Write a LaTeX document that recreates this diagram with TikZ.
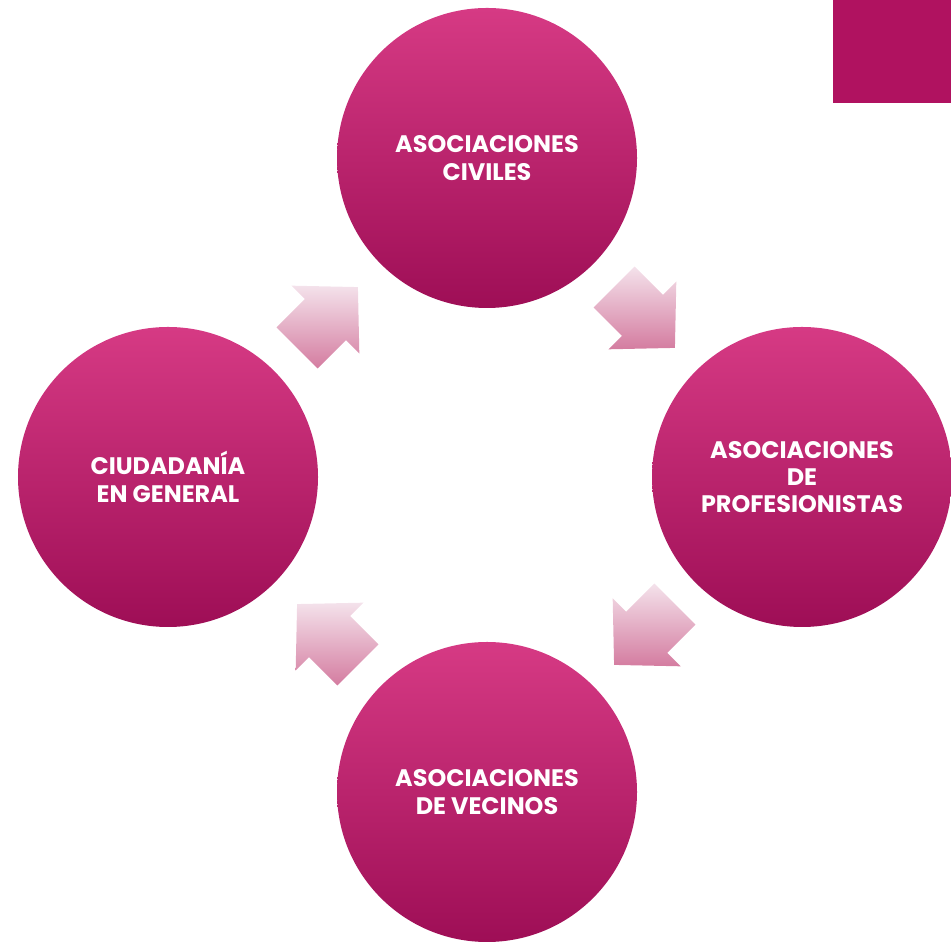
\documentclass[tikz,border=0pt]{standalone}
\usepackage{fontspec}
\setmainfont{Poppins}
\usetikzlibrary{positioning, calc}
\definecolor{magTop}{RGB}{214,58,132}
\definecolor{magBot}{RGB}{158,14,86}
\definecolor{magBox}{RGB}{176,18,96}
\definecolor{arrTop}{RGB}{244,226,235}
\definecolor{arrBot}{RGB}{212,124,160}

\begin{document}
\begin{tikzpicture}[
    x=0.2mm, y=0.2mm,
    group/.style={circle, minimum size=60mm, inner sep=0pt, top color=magTop, bottom color=magBot, text=white, font=\fontsize{13.6}{15.6}\selectfont\bfseries, align=center},
    flow/.style={top color=arrTop, bottom color=arrBot, shift={(#1)}}
]
\useasboundingbox (0,0) rectangle (951,944);

% Corner box
\fill[magBox] (833,841) rectangle (951,944);

% Groups
\node[group] (civiles) at (487,786) {ASOCIACIONES\\CIVILES};
\node[group] (profesionistas) at (802,467) {ASOCIACIONES\\DE\\PROFESIONISTAS};
\node[group] (vecinos) at (487,152) {ASOCIACIONES\\DE VECINOS};
\node[group] (ciudadania) at (168,467) {CIUDADANÍA\\EN GENERAL};

% Flow arrows between groups
\coordinate (f1) at ($(ciudadania)!0.5!(civiles)$);
\coordinate (f2) at ($(civiles)!0.5!(profesionistas)$);
\coordinate (f3) at ($(profesionistas)!0.5!(vecinos)$);
\coordinate (f4) at ($(vecinos)!0.5!(ciudadania)$);
\foreach \f/\a in {f1/45, f2/-45, f3/-135, f4/135}
  \shade[flow=\f, rotate=\a] (-43,-29) -- (-3,-29) -- (-3,-48) -- (43,0) -- (-3,48) -- (-3,29) -- (-43,29) -- cycle;

\end{tikzpicture}
\end{document}
